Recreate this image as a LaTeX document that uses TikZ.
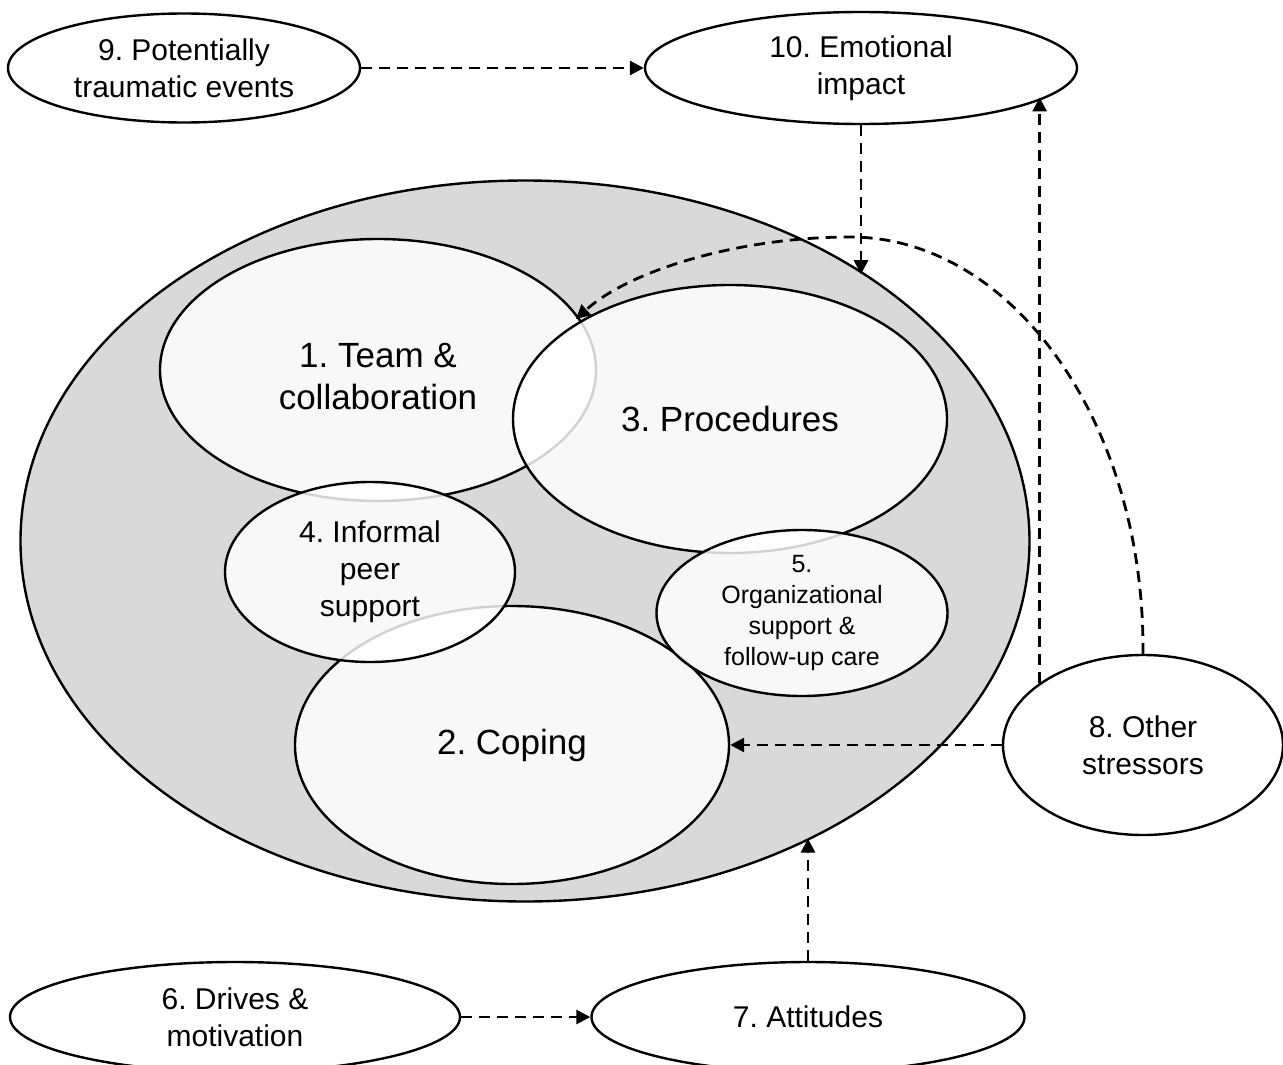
\documentclass[tikz,border=0pt]{standalone}
\usepackage{fontspec}
\setmainfont{Liberation Sans}
\frenchspacing
\usetikzlibrary{shapes.geometric,arrows.meta}
\definecolor{ringgray}{RGB}{217,217,217}
\tikzset{
  oval/.style={draw,ellipse,line width=2.4pt,fill=white,inner sep=0pt,align=center,
    font=\fontsize{30}{37}\selectfont},
  part/.style={oval,fill opacity=0.82,text opacity=1},
  flow/.style={line width=2.8pt,dash pattern=on 11pt off 7pt,
    -{Triangle[length=14pt,width=14pt]}},
  bigtext/.style={font=\fontsize{35}{42}\selectfont},
  smalltext/.style={font=\fontsize{25}{31}\selectfont}
}
\begin{document}
\begin{tikzpicture}[x=1pt,y=-1pt]
\useasboundingbox (0,0) rectangle (1283,1065);
\node[oval,fill=ringgray,minimum width=1009pt,minimum height=721pt](frame) at(525,541){};
\node[part,bigtext,minimum width=434pt,minimum height=278pt](coping) at(512,745){2. Coping};
\node[part,bigtext,minimum width=436pt,minimum height=262pt](team) at(378,370){};
\node[bigtext,align=center](teamtext) at(378,377){1. Team \&\\collaboration};
\node[part,bigtext,minimum width=434pt,minimum height=268pt](proc) at(730,419){3. Procedures};
\node[part,smalltext,minimum width=291pt,minimum height=166pt](org) at(802,613){5.\\Organizational\\support \&\\follow-up care};
\node[part,minimum width=290pt,minimum height=180pt](peer) at(370,572){4. Informal\\peer\\support};
\node[oval,minimum width=352pt,minimum height=109pt](events) at(184,68){9. Potentially\\traumatic events};
\node[oval,minimum width=432pt,minimum height=112pt](impact) at(861,68){10. Emotional\\impact};
\node[oval,minimum width=280pt,minimum height=180pt](stress) at(1143,745){8. Other\\stressors};
\node[oval,minimum width=450pt,minimum height=110pt](drives) at(235,1017){6. Drives \&\\motivation};
\node[oval,minimum width=433pt,minimum height=110pt](att) at(808,1017){7. Attitudes};
\coordinate (meet) at(576,319);
\draw[flow](events)--(impact);
\draw[flow](drives)--(att);
\draw[flow](impact.south)--(impact.south|-frame.38.7);
\draw[flow](att.north)--(att.north|-frame.-46.5);
\draw[flow](stress.west)--(coping.east);
\draw[flow](stress.149.4)--(stress.149.4|-impact.-9.8);
\draw[flow](stress.north) .. controls (1145,424) and (1013,237) .. (850,237)
  .. controls (740,237) and (630,270) .. (meet);
\end{tikzpicture}
\end{document}
